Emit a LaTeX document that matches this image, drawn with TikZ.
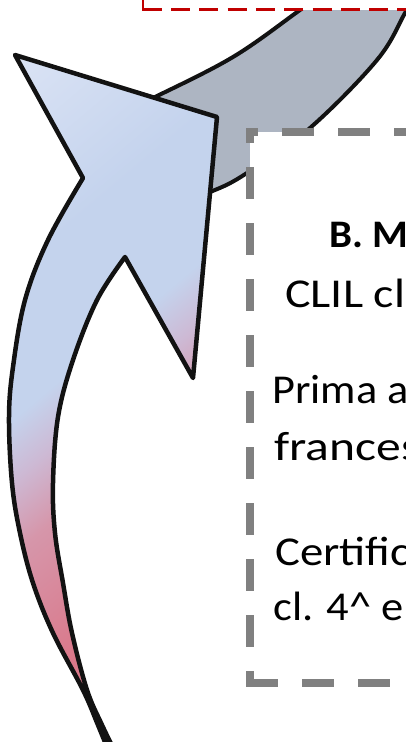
\documentclass[tikz,border=0pt]{standalone}
\usepackage{fontspec}
\setmainfont{Carlito}
\usepackage{graphicx}
\definecolor{bandgray}{RGB}{173,181,194}
\definecolor{boxred}{RGB}{192,0,0}
\definecolor{boxgray}{RGB}{128,128,128}
\definecolor{blueL}{RGB}{220,228,245}
\definecolor{blueM}{RGB}{196,211,237}
\definecolor{lav}{RGB}{205,185,212}
\definecolor{pinkM}{RGB}{214,150,170}
\definecolor{pinkD}{RGB}{218,120,138}
\pgfdeclareverticalshading{arrowshade}{100bp}{color(0bp)=(pinkD); color(39bp)=(pinkD); color(46.5bp)=(pinkM); color(50bp)=(lav); color(53bp)=(blueM); color(60bp)=(blueM); color(71bp)=(blueL); color(100bp)=(blueL)}
\tikzset{
  outline/.style={draw=black!93, line width=4.5pt, line join=round},
  txt/.style={anchor=base west, inner sep=0pt, font=\fontsize{41}{49}\selectfont},
  boldtxt/.style={anchor=base west, inner sep=0pt, font=\fontsize{39}{47}\selectfont\bfseries},
  grayedge/.style={draw=boxgray, line width=8pt, line cap=rect, dash pattern=on 24pt off 32pt}
}
\begin{document}
\begin{tikzpicture}[x=1pt,y=-1pt]
\useasboundingbox (0,0) rectangle (406,742);
% gray band
\draw[outline, line width=4pt, fill=bandgray]
  plot[smooth, tension=0.6] coordinates {(335,-15) (300,10) (233,57) (153,98) (110,118)}
  -- plot[smooth, tension=0.6] coordinates {(150,212) (210,192) (247,173) (310,128) (377,60) (405,13) (420,-15)}
  -- cycle;
% red dashed box (white fill)
\fill[white] (143,9.5) rectangle (430,-30);
\draw[boxred, line width=2.6pt] (143,-5) -- (143,9.5) -- (162,9.5);
\draw[boxred, line width=2.6pt, dash pattern=on 19pt off 9.3pt] (171,9.5) -- (430,9.5);
% gray dashed box
\fill[white] (250,132) rectangle (430,683);
\coordinate (tl) at (250,132);
\coordinate (bl) at (250,683);
\coordinate (tr) at (440,132);
\coordinate (br) at (440,683);
\draw[grayedge, dash phase=20pt] (tl) -- (tr);
\draw[grayedge, dash phase=17pt] (tl) -- (bl);
\draw[grayedge] (bl) -- (br);
% arrow
\def\arrowpath{(15,55) -- (217,117) -- (193,378) --
  plot[smooth, tension=0.6] coordinates {(125,257) (97,300) (73,360) (58,417) (53,483) (55,533) (63,583) (72,633) (87,690) (102,725) (120,762)}
  -- plot[smooth, tension=0.6] coordinates {(113,762) (98,725) (83,690) (53,633) (33,583) (20,533) (12,483) (9,417) (13,367) (25,300) (48,240) (83,178)}
  -- cycle}
\begin{scope}
  \clip \arrowpath;
  \shade[shading=arrowshade, shading angle=40] (-290,0) rectangle (510,800);
\end{scope}
\draw[outline] \arrowpath;
% text
\node[boldtxt] (t1) at (329,247) {\scalebox{1.05}[1]{B. M}};
\node[txt] (t2) at (285,307) {\scalebox{1.17}[1]{CLIL cl}};
\node[txt] (t3) at (272,403) {\scalebox{1.08}[1]{Prima a}};
\node[txt] (t4) at (274,460) {\scalebox{1.21}[1]{frances}};
\node[txt] (t5) at (275,565) {\scalebox{1.14}[1]{Certific}};
\node[txt] (t6) at (273,620) {\scalebox{1.085}[1]{cl. 4\^{} e}};
\end{tikzpicture}
\end{document}
